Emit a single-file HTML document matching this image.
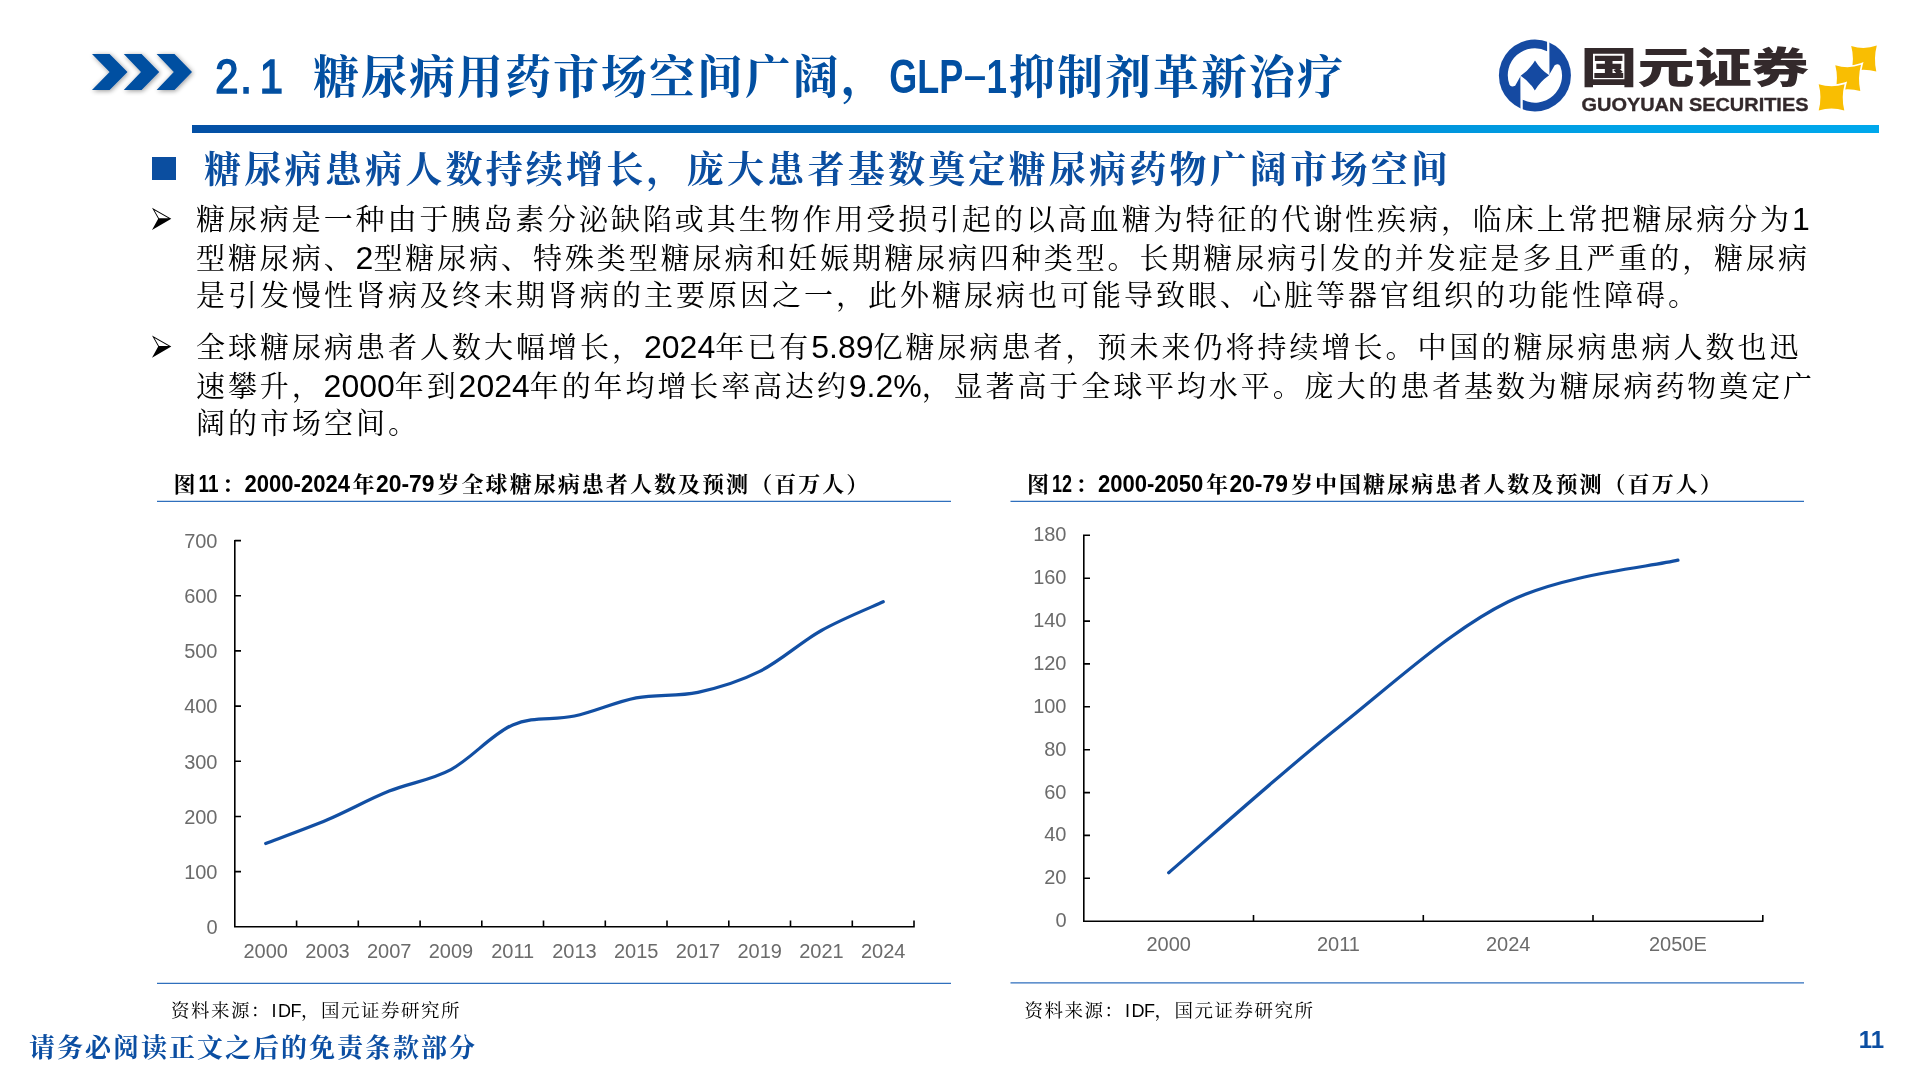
<!DOCTYPE html>
<html lang="zh-CN">
<head>
<meta charset="utf-8">
<title>2.1 糖尿病用药市场空间广阔，GLP-1抑制剂革新治疗</title>
<style>
html,body{margin:0;padding:0;background:#fff;}
#slide{position:relative;width:1920px;height:1080px;overflow:hidden;background:#fff;
  font-family:"Liberation Sans","Noto Serif CJK SC",serif;color:#000;}
#slide *{box-sizing:border-box;}
.abs{position:absolute;white-space:nowrap;will-change:transform;}
svg{position:absolute;left:0;top:0;overflow:visible;will-change:transform;}
.kai{font-family:"Liberation Sans","Noto Serif CJK SC",serif;}
/* gradient rule under title */
#rule{position:absolute;left:192px;top:125px;width:1687px;height:8px;
  background:linear-gradient(90deg,#0450a5 0%,#0060b0 24%,#0476c4 48%,#0084d0 60%,#00a2e6 84%,#00a8ec 100%);}
/* section heading */
#sq{position:absolute;left:152px;top:156.7px;width:23.7px;height:23.3px;background:#0b4ea0;}
#h2{left:203.6px;top:143px;font-size:37px;line-height:56px;font-weight:700;letter-spacing:3.23px;color:#0b4ea0;}
/* paragraphs */
.para{position:absolute;left:196.3px;width:1618px;font-size:29px;line-height:38.5px;letter-spacing:3px;font-weight:400;will-change:transform;}
.para .ln{display:block;height:38.5px;white-space:nowrap;}
.para .c1{letter-spacing:2.92px;}
.para .c2{letter-spacing:2.9px;}
.para b{font-weight:400;font-size:32px;letter-spacing:0;font-family:"Liberation Sans",sans-serif;}
</style>
</head>
<body>
<div id="slide">

<!-- ===== header ===== -->
<svg id="hdr" width="1920" height="140" viewBox="0 0 1920 140">
  <defs>
    <filter id="sh" x="-20%" y="-30%" width="140%" height="170%">
      <feGaussianBlur in="SourceAlpha" stdDeviation="2.7"/>
      <feOffset dx="0.6" dy="1.3" result="o"/>
      <feComponentTransfer><feFuncA type="linear" slope="0.42"/></feComponentTransfer>
      <feMerge><feMergeNode/><feMergeNode in="SourceGraphic"/></feMerge>
    </filter>
  </defs>
  <g fill="#004fa1" filter="url(#sh)">
    <path d="M92,54 H109.6 L127.5,72 L109.6,90 H92 L109.6,72 Z"/>
    <path d="M123.8,54 H141.6 L159.2,72 L141.6,90 H123.8 L141,72 Z"/>
    <path d="M156.6,54 H174.5 L192,72 L174.5,90 H156.6 L173.8,72 Z"/>
  </g>

  <!-- title -->
  <g fill="#024fa1" font-weight="700" font-size="46" style="font-family:'Liberation Sans','Noto Serif CJK SC',serif">
    <g transform="translate(216,0) scale(0.86,1)" font-size="48.5" font-weight="400" stroke="#024fa1" stroke-width="1.7" text-anchor="middle">
      <text x="12.5 35 64.5" y="92.6">2.1</text>
    </g>
    <text x="313" y="93" textLength="574" lengthAdjust="spacing">糖尿病用药市场空间广阔，</text>
    <text x="889.3" y="92.6" textLength="74" lengthAdjust="spacingAndGlyphs" font-size="48.5">GLP</text>
    <text x="961.5" y="90.5" textLength="27" lengthAdjust="spacingAndGlyphs" font-size="48.5" font-weight="400">-</text>
    <text x="986.5" y="92.6" textLength="20.5" lengthAdjust="spacingAndGlyphs" font-size="48.5">1</text>
    <text x="1009" y="93" textLength="334" lengthAdjust="spacing">抑制剂革新治疗</text>
  </g>
  <!-- logo -->
  <g id="logo">
    <g transform="translate(1490,30) scale(0.083333)">
      <circle cx="539" cy="545" r="432" fill="#154aa2"/>
      <g fill="#fff">
        <path id="w1" d="M685,90 L685,254 A324,324 0 0 0 234,656 Q252,692 302,668 L364,558 L372,545 Q476,473 540,365 Q606,475 714,545 L712,90 Z"/>
        <use href="#w1" transform="rotate(180 539 545)"/>
      </g>
    </g>
    <g fill="#33292b" font-weight="900" style="font-family:'Liberation Sans','Noto Sans CJK SC',sans-serif">
      <text x="1580.5" y="82.6" font-size="42.5" textLength="228.5" lengthAdjust="spacingAndGlyphs">国元证券</text>
    </g>
    <text x="1581.5" y="111.4" font-size="19.2" font-weight="700" fill="#33292b" stroke="#33292b" stroke-width="0.35" textLength="227" lengthAdjust="spacingAndGlyphs" style="font-family:'Liberation Sans',sans-serif">GUOYUAN SECURITIES</text>
    <g fill="#f9be02" stroke="#fff" stroke-width="3.4" stroke-linejoin="miter" paint-order="stroke">
      <path d="M1851.2,46 Q1864,50 1876.8,45.6 Q1873.4,58.5 1876.3,71.5 Q1863.5,68 1851.2,71.5 Q1854.6,58.5 1851.2,46 Z"/>
      <path d="M1835.3,65.2 Q1848,69.4 1861,64.8 Q1857.4,78 1860.3,91 Q1847.8,87.4 1835.3,91 Q1838.6,78 1835.3,65.2 Z"/>
      <path d="M1818.7,84.2 Q1831.5,88.4 1844.6,84.2 Q1841,97.2 1844.3,110.5 Q1831.5,106.5 1818.7,110.5 Q1822.2,97.2 1818.7,84.2 Z"/>
    </g>
  </g>
</svg>

<div id="rule"></div>

<!-- ===== section heading ===== -->
<div id="sq"></div>
<div id="h2" class="abs kai">糖尿病患病人数持续增长，庞大患者基数奠定糖尿病药物广阔市场空间</div>

<!-- ===== paragraphs ===== -->
<div class="para" style="top:200px">
  <span class="ln c1">糖尿病是一种由于胰岛素分泌缺陷或其生物作用受损引起的以高血糖为特征的代谢性疾病，临床上常把糖尿病分为<b>1</b></span>
  <span class="ln c1">型糖尿病、<b>2</b>型糖尿病、特殊类型糖尿病和妊娠期糖尿病四种类型。长期糖尿病引发的并发症是多且严重的，糖尿病</span>
  <span class="ln">是引发慢性肾病及终末期肾病的主要原因之一，此外糖尿病也可能导致眼、心脏等器官组织的功能性障碍。</span>
</div>
<div class="para" style="top:328px">
  <span class="ln">全球糖尿病患者人数大幅增长，<b>2024</b>年已有<b>5.89</b>亿糖尿病患者，预未来仍将持续增长。中国的糖尿病患病人数也迅</span>
  <span class="ln c2">速攀升，<b>2000</b>年到<b>2024</b>年的年均增长率高达约<b>9.2%</b>，显著高于全球平均水平。庞大的患者基数为糖尿病药物奠定广</span>
  <span class="ln">阔的市场空间。</span>
</div>

<svg id="charts" width="1920" height="1080" viewBox="0 0 1920 1080">
  <g stroke="#2f6fbd" stroke-width="1.3" fill="none">
    <path d="M157,501.3 H951 M157,983.3 H951 M1010.5,501.3 H1804 M1010.5,982.8 H1804"/>
  </g>
  <!-- left chart -->
  <path d="M234.8,539.9 V926.8 H914.8 M234.8,926.8 h6.2 M234.8,871.6 h6.2 M234.8,816.5 h6.2 M234.8,761.3 h6.2 M234.8,706.1 h6.2 M234.8,650.9 h6.2 M234.8,595.8 h6.2 M234.8,540.6 h6.2 M296.6,926.8 v-6.2 M358.3,926.8 v-6.2 M420.1,926.8 v-6.2 M481.8,926.8 v-6.2 M543.5,926.8 v-6.2 M605.3,926.8 v-6.2 M667.0,926.8 v-6.2 M728.8,926.8 v-6.2 M790.5,926.8 v-6.2 M852.3,926.8 v-6.2 M914.0,926.8 v-6.2" stroke="#000" stroke-width="1.6" fill="none"/>
  <path d="M265.7,843.5 C276.0,839.5 306.8,828.5 327.4,819.8 C348.0,811.0 368.6,799.4 389.2,791.1 C409.8,782.7 430.3,780.6 450.9,769.6 C471.5,758.5 492.1,733.8 512.7,724.9 C533.3,716.0 553.8,720.6 574.4,716.0 C595.0,711.5 615.6,701.8 636.2,697.8 C656.8,693.9 677.3,696.7 697.9,692.3 C718.5,687.9 739.1,681.7 759.7,671.4 C780.3,661.1 800.8,642.1 821.4,630.5 C842.0,618.9 872.9,606.6 883.2,601.8" stroke="#124fa3" stroke-width="3.25" fill="none" stroke-linecap="round" stroke-linejoin="round"/>
  <g font-size="20" fill="#6b6b6b" style="font-family:'Liberation Sans',sans-serif">
    <g text-anchor="end">
      <text x="217.5" y="934.0">0</text>
      <text x="217.5" y="878.8">100</text>
      <text x="217.5" y="823.7">200</text>
      <text x="217.5" y="768.5">300</text>
      <text x="217.5" y="713.3">400</text>
      <text x="217.5" y="658.1">500</text>
      <text x="217.5" y="603.0">600</text>
      <text x="217.5" y="547.8">700</text>
    </g>
    <g text-anchor="middle">
      <text x="265.7" y="958.2">2000</text>
      <text x="327.4" y="958.2">2003</text>
      <text x="389.2" y="958.2">2007</text>
      <text x="450.9" y="958.2">2009</text>
      <text x="512.7" y="958.2">2011</text>
      <text x="574.4" y="958.2">2013</text>
      <text x="636.2" y="958.2">2015</text>
      <text x="697.9" y="958.2">2017</text>
      <text x="759.7" y="958.2">2019</text>
      <text x="821.4" y="958.2">2021</text>
      <text x="883.2" y="958.2">2024</text>
    </g>
  </g>
  <!-- right chart -->
  <path d="M1083.8,534.5 V921.2 H1763.5 M1083.8,921.2 h6.2 M1083.8,878.3 h6.2 M1083.8,835.4 h6.2 M1083.8,792.6 h6.2 M1083.8,749.7 h6.2 M1083.8,706.8 h6.2 M1083.8,663.9 h6.2 M1083.8,621.1 h6.2 M1083.8,578.2 h6.2 M1083.8,535.3 h6.2 M1253.5,921.2 v-6.2 M1423.3,921.2 v-6.2 M1593.0,921.2 v-6.2 M1762.8,921.2 v-6.2" stroke="#000" stroke-width="1.6" fill="none"/>
  <path d="M1168.7,872.7 C1197.0,848.5 1281.8,772.3 1338.4,727.2 C1395.0,682.0 1451.6,629.6 1508.2,601.8 C1564.8,573.9 1649.6,567.1 1677.9,560.2" stroke="#124fa3" stroke-width="3.25" fill="none" stroke-linecap="round" stroke-linejoin="round"/>
  <g font-size="20" fill="#6b6b6b" style="font-family:'Liberation Sans',sans-serif">
    <g text-anchor="end">
      <text x="1066.5" y="927.2">0</text>
      <text x="1066.5" y="884.3">20</text>
      <text x="1066.5" y="841.4">40</text>
      <text x="1066.5" y="798.6">60</text>
      <text x="1066.5" y="755.7">80</text>
      <text x="1066.5" y="712.8">100</text>
      <text x="1066.5" y="669.9">120</text>
      <text x="1066.5" y="627.1">140</text>
      <text x="1066.5" y="584.2">160</text>
      <text x="1066.5" y="541.3">180</text>
    </g>
    <g text-anchor="middle">
      <text x="1168.7" y="951.4">2000</text>
      <text x="1338.4" y="951.4">2011</text>
      <text x="1508.2" y="951.4">2024</text>
      <text x="1677.9" y="951.4">2050E</text>
    </g>
  </g>
  <!-- arrow bullets -->
  <g fill="#000" fill-rule="evenodd">
    <path id="arw" d="M152,207.8 L171.3,218.7 L152,230 L158.2,218.7 Z M154.4,210.3 L159,218.2 L168.5,218.2 Z"/>
    <use href="#arw" y="127.7"/>
  </g>
  <!-- captions -->
  <g font-size="22" font-weight="700" fill="#000" style="font-family:'Liberation Sans','Noto Serif CJK SC',serif">
    <text x="173.6" y="492.3">图</text>
    <text x="198.5" y="492.3" font-size="23" textLength="20" lengthAdjust="spacingAndGlyphs">11</text>
    <text x="222.0" y="492.3">：</text>
    <text x="244.5" y="492.3" font-size="23" textLength="105.5" lengthAdjust="spacingAndGlyphs">2000-2024</text>
    <text x="352.5" y="492.3">年</text>
    <text x="376.0" y="492.3" font-size="23" textLength="58.5" lengthAdjust="spacingAndGlyphs">20-79</text>
    <text x="437.5" y="492.3" letter-spacing="2.05">岁全球糖尿病患者人数及预测（百万人）</text>
  </g>
  <g font-size="22" font-weight="700" fill="#000" style="font-family:'Liberation Sans','Noto Serif CJK SC',serif">
    <text x="1027.0" y="492.3">图</text>
    <text x="1051.9" y="492.3" font-size="23" textLength="20" lengthAdjust="spacingAndGlyphs">12</text>
    <text x="1075.4" y="492.3">：</text>
    <text x="1097.9" y="492.3" font-size="23" textLength="105.5" lengthAdjust="spacingAndGlyphs">2000-2050</text>
    <text x="1205.9" y="492.3">年</text>
    <text x="1229.4" y="492.3" font-size="23" textLength="58.5" lengthAdjust="spacingAndGlyphs">20-79</text>
    <text x="1290.9" y="492.3" letter-spacing="2.05">岁中国糖尿病患者人数及预测（百万人）</text>
  </g>
  <!-- sources -->
  <g font-size="18.5" font-weight="400" fill="#000" style="font-family:'Liberation Sans','Noto Serif CJK SC',serif">
    <text x="171.0" y="1017" letter-spacing="1.5">资料来源：</text>
    <text x="274.0 284.5 296.0" y="1017" font-size="18" text-anchor="middle">IDF</text>
    <text x="301.0" y="1017" letter-spacing="1.5">，国元证券研究所</text>
  </g>
  <g font-size="18.5" font-weight="400" fill="#000" style="font-family:'Liberation Sans','Noto Serif CJK SC',serif">
    <text x="1024.6" y="1017" letter-spacing="1.5">资料来源：</text>
    <text x="1127.6 1138.1 1149.6" y="1017" font-size="18" text-anchor="middle">IDF</text>
    <text x="1154.6" y="1017" letter-spacing="1.5">，国元证券研究所</text>
  </g>
  <!-- footer -->
  <text x="29" y="1057" font-size="26" font-weight="700" letter-spacing="2" fill="#0b4ea2" style="font-family:'Liberation Sans','Noto Serif CJK SC',serif">请务必阅读正文之后的免责条款部分</text>
  <text x="1884" y="1048.4" font-size="24" font-weight="700" text-anchor="end" fill="#0b4ea2" style="font-family:'Liberation Sans',sans-serif">11</text>
</svg>


</div>
</body>
</html>
